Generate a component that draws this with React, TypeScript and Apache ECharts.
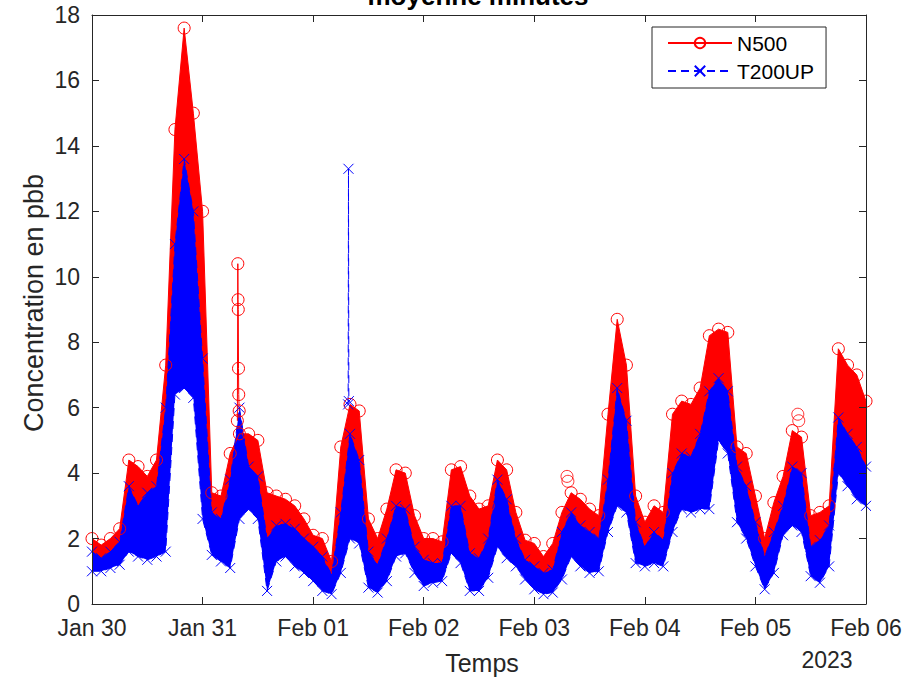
import React, { useEffect, useRef } from "react";
import * as echarts from "echarts";

// Time grid: one reading every 2 hours, starting Jan 30 00:00 (x in hours since then)
const HOUR_STEP = 2;
const X_TICK_LABELS = ["Jan 30", "Jan 31", "Feb 01", "Feb 02", "Feb 03", "Feb 04", "Feb 05", "Feb 06"];
const Y_TICKS = [0, 2, 4, 6, 8, 10, 12, 14, 16, 18];

// N500 upper envelope (ppb)
const N500_HIGH = [
  2.0, 1.8, 2.0, 2.3, 4.4, 4.2, 3.9, 4.4, 7.3, 14.5, 17.6, 15.0,
  12.0, 3.4, 3.3, 4.6, 5.2, 5.2, 5.0, 3.4, 3.3, 3.2, 3.0, 2.6,
  2.1, 2.0, 1.3, 4.8, 6.1, 5.9, 2.6, 2.0, 2.9, 4.1, 4.0, 2.7,
  2.0, 2.0, 1.9, 4.1, 4.2, 3.3, 2.9, 3.0, 4.4, 4.1, 2.8, 1.95,
  1.85, 1.45, 1.85, 2.8, 3.4, 3.2, 2.9, 2.7, 5.8, 8.7, 7.3, 3.3,
  2.5, 3.0, 2.8, 5.8, 6.2, 6.1, 6.6, 8.2, 8.4, 8.3, 4.8, 4.6,
  3.3, 2.0, 3.1, 3.9, 5.3, 5.1, 2.7, 2.8, 3.0, 7.8, 7.3, 7.0,
  6.2,
];

// T200UP upper envelope (ppb)
const T200UP_HIGH = [
  1.6, 1.4, 1.6, 1.9, 3.6, 3.0, 3.4, 3.6, 6.0, 11.0, 13.6, 12.0,
  7.5, 2.8, 2.6, 3.8, 6.0, 4.2, 3.9, 2.0, 2.4, 2.45, 2.3, 2.0,
  1.75, 1.45, 0.9, 2.8, 5.2, 4.4, 1.6, 1.2, 2.0, 3.0, 2.9, 1.75,
  1.35, 1.25, 1.25, 3.0, 3.0, 1.55, 1.4, 2.0, 3.8, 3.2, 2.0, 1.35,
  1.15, 0.95, 1.05, 2.2, 2.8, 2.4, 2.2, 2.0, 3.8, 6.6, 5.6, 2.5,
  1.75, 2.2, 1.95, 4.0, 4.6, 4.5, 5.2, 6.5, 6.9, 6.5, 4.2, 3.6,
  2.5, 1.45, 2.2, 3.0, 4.2, 4.0, 1.75, 1.95, 2.4, 5.7, 5.2, 4.8,
  4.2,
];

// T200UP lower envelope (ppb)
const T200UP_LOW = [
  1.0, 1.0, 1.1, 1.2, 1.6, 1.45, 1.35, 1.45, 1.6, 6.4, 6.6, 6.3,
  2.6, 1.5, 1.3, 1.1, 2.6, 2.9, 2.6, 0.4, 1.3, 1.45, 1.15, 0.95,
  0.7, 0.4, 0.3, 0.95, 2.0, 1.85, 0.5, 0.35, 0.7, 1.45, 1.55, 0.95,
  0.55, 0.65, 0.7, 1.55, 1.25, 0.4, 0.4, 0.8, 1.75, 1.4, 1.15, 0.75,
  0.45, 0.3, 0.35, 0.75, 1.45, 1.15, 0.95, 1.0, 2.2, 3.0, 2.8, 1.25,
  1.15, 1.25, 1.15, 2.2, 2.9, 2.8, 2.9, 2.9, 5.0, 4.6, 2.5, 2.0,
  1.15, 0.45, 0.95, 2.1, 2.4, 2.2, 0.85, 0.65, 1.15, 4.0, 3.6, 3.2,
  3.0,
];

// Isolated readings [hours since Jan 30 00:00, ppb]
const N500_SPIKE = [
  [31.55, 5.6], [31.65, 10.4], [31.7, 9.3], [31.75, 9.0], [31.8, 7.2], [31.85, 6.4], [31.95, 5.9],
];
const N500_OUTLIERS = [
  [103.1, 3.9], [103.3, 3.75], [153.2, 5.8], [153.4, 5.6],
];
const T200UP_SPIKE = [
  [55.6, 6.1], [55.67, 13.3], [55.75, 6.2],
];

const FONT = "'Liberation Sans', Arial, Helvetica, sans-serif";
const AXIS_COLOR = "#262626";
const RED = "#ff0000";
const BLUE = "#0000ff";
const X_SYMBOL = "path://M0 0L10 10M10 0L0 10";

const toXY = (arr: number[]) => arr.map((v, i) => [i * HOUR_STEP, v]);

export default function App() {
  const ref = useRef<HTMLDivElement>(null);

  useEffect(() => {
    if (!ref.current) return;
    const chart = echarts.init(ref.current, null, { renderer: "svg" });

    const xMax = (X_TICK_LABELS.length - 1) * 24;
    const baseX = {
      type: "value" as const,
      min: 0,
      max: xMax,
      interval: 24,
      z: 5,
      splitLine: { show: false },
      axisLine: { show: true, onZero: false, lineStyle: { color: AXIS_COLOR, width: 1 } },
      axisTick: { show: true, inside: true, length: 7, lineStyle: { color: AXIS_COLOR, width: 1 } },
    };
    const baseY = {
      type: "value" as const,
      min: Y_TICKS[0],
      max: Y_TICKS[Y_TICKS.length - 1],
      interval: Y_TICKS[1] - Y_TICKS[0],
      z: 5,
      splitLine: { show: false },
      axisLine: { show: true, onZero: false, lineStyle: { color: AXIS_COLOR, width: 1 } },
      axisTick: { show: true, inside: true, length: 7, lineStyle: { color: AXIS_COLOR, width: 1 } },
    };

    const hollowCircle = { color: "rgba(255,255,255,0)", borderColor: RED, borderWidth: 1 };
    const crossStyle = { color: BLUE, borderColor: BLUE, borderWidth: 1 };

    chart.setOption({
      animation: false,
      backgroundColor: "#ffffff",
      grid: { left: 92, right: 48, top: 15, bottom: 76, containLabel: false },
      xAxis: [
        {
          ...baseX,
          position: "bottom",
          axisLabel: {
            show: true,
            fontSize: 23,
            fontFamily: FONT,
            color: AXIS_COLOR,
            margin: 12,
            showMinLabel: true,
            showMaxLabel: true,
            formatter: (v: number) => X_TICK_LABELS[Math.round(v / 24)] ?? "",
          },
        },
        { ...baseX, position: "top", axisLabel: { show: false } },
      ],
      yAxis: [
        {
          ...baseY,
          position: "left",
          axisLabel: {
            show: true,
            fontSize: 23,
            fontFamily: FONT,
            color: AXIS_COLOR,
            margin: 12,
            showMinLabel: true,
            showMaxLabel: true,
          },
        },
        { ...baseY, position: "right", axisLabel: { show: false } },
      ],
      legend: {
        data: ["N500", "T200UP"],
        orient: "vertical",
        left: 652,
        top: 27,
        itemWidth: 64,
        itemHeight: 13,
        itemGap: 6,
        padding: [5, 12, 6, 15],
        borderColor: AXIS_COLOR,
        borderWidth: 1,
        borderRadius: 0,
        backgroundColor: "#ffffff",
        textStyle: { fontSize: 21, fontFamily: FONT, color: "#000000", lineHeight: 22 },
      },
      graphic: [
        {
          type: "text",
          x: 478,
          y: -4,
          style: {
            text: "moyenne minutes",
            font: `bold 26px ${FONT}`,
            fill: "#000000",
            align: "center",
            verticalAlign: "middle",
          },
        },
        {
          type: "text",
          x: 482,
          y: 663,
          style: {
            text: "Temps",
            font: `25px ${FONT}`,
            fill: AXIS_COLOR,
            align: "center",
            verticalAlign: "middle",
          },
        },
        {
          type: "text",
          x: 827,
          y: 660,
          style: {
            text: "2023",
            font: `23px ${FONT}`,
            fill: AXIS_COLOR,
            align: "center",
            verticalAlign: "middle",
          },
        },
        {
          type: "text",
          x: 34,
          y: 303,
          rotation: Math.PI / 2,
          style: {
            text: "Concentration en pbb",
            font: `27px ${FONT}`,
            fill: AXIS_COLOR,
            align: "center",
            verticalAlign: "middle",
          },
        },
      ],
      series: [
        {
          name: "N500",
          type: "line",
          data: toXY(N500_HIGH),
          symbol: "circle",
          symbolSize: 12,
          showSymbol: true,
          itemStyle: hollowCircle,
          lineStyle: { color: RED, width: 1 },
          areaStyle: { color: RED, opacity: 1 },
        },
        {
          name: "T200UP",
          type: "line",
          data: toXY(T200UP_HIGH),
          symbol: X_SYMBOL,
          symbolSize: 10,
          showSymbol: true,
          itemStyle: crossStyle,
          lineStyle: { color: BLUE, width: 1, type: [8, 5] },
          areaStyle: { color: BLUE, opacity: 1 },
        },
        {
          name: "T200UP (bas)",
          type: "line",
          data: toXY(T200UP_LOW),
          symbol: X_SYMBOL,
          symbolSize: 10,
          showSymbol: true,
          itemStyle: crossStyle,
          lineStyle: { color: BLUE, width: 1, type: [8, 5] },
          areaStyle: { color: "#ffffff", opacity: 1 },
        },
        {
          name: "N500 (pic)",
          type: "line",
          data: N500_SPIKE,
          symbol: "circle",
          symbolSize: 12,
          itemStyle: hollowCircle,
          lineStyle: { color: RED, width: 1 },
        },
        {
          name: "N500 (isolés)",
          type: "scatter",
          data: N500_OUTLIERS,
          symbol: "circle",
          symbolSize: 12,
          itemStyle: hollowCircle,
        },
        {
          name: "T200UP (pic)",
          type: "line",
          data: T200UP_SPIKE,
          symbol: X_SYMBOL,
          symbolSize: 10,
          itemStyle: crossStyle,
          lineStyle: { color: BLUE, width: 1, type: [8, 5] },
        },
      ],
    });

    return () => chart.dispose();
  }, []);

  return (
    <div
      ref={ref}
      style={{ position: "fixed", left: 0, top: 0, width: 914, height: 680, background: "#ffffff" }}
    />
  );
}
